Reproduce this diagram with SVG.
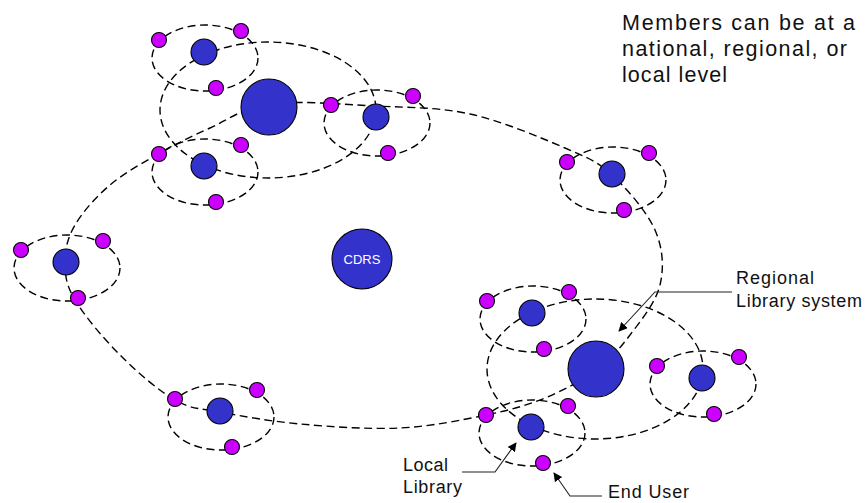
<svg xmlns="http://www.w3.org/2000/svg" width="866" height="503" viewBox="0 0 866 503">
<style>
.ring{fill:none;stroke:#000;stroke-width:1.4;stroke-dasharray:8 4.5}
.blue{fill:#3333CC;stroke:#000;stroke-width:1.1}
.mag{fill:#CC00FF;stroke:#000;stroke-width:1.1}
.txt{font-family:"Liberation Sans",Arial,sans-serif;fill:#111}
.lead{fill:none;stroke:#222;stroke-width:1.1}
</style>
<defs>
<marker id="ah" viewBox="0 0 10 10" refX="9" refY="5" markerWidth="9" markerHeight="9" markerUnits="userSpaceOnUse" orient="auto">
<path d="M0,0 L10,5 L0,10 Z" fill="#000"/>
</marker>
</defs>
<rect width="866" height="503" fill="#fff"/>
<g id="connectors">
<path class="ring" d="M270,104 C297.5,100.3 341.7,104.3 375,106 C408.3,107.7 438.3,107 470,114 C501.7,121 541.3,137.8 565,148 C588.7,158.2 597,161.3 612,175 C627,188.7 647,211.7 655,230 C663,248.3 664.2,267.5 660,285 C655.8,302.5 640.7,320.8 630,335 C619.3,349.2 610.2,359.5 596,370 C581.8,380.5 563.3,390.5 545,398 C526.7,405.5 510.2,410 486,415 C461.8,420 431,426.5 400,428 C369,429.5 330,426.7 300,424 C270,421.3 240.8,416 220,412 C199.2,408 191.7,409.5 175,400 C158.3,390.5 136.7,371.7 120,355 C103.3,338.3 84.2,315.5 75,300 C65.8,284.5 65,274.5 65,262 C65,249.5 67.5,237.8 75,225 C82.5,212.2 95.8,197 110,185 C124.2,173 143.3,162.5 160,153 C176.7,143.5 191.7,136.2 210,128 C228.3,119.8 242.5,107.7 270,104 Z"/>
<ellipse class="ring" cx="268" cy="110" rx="108" ry="68"/>
<ellipse class="ring" cx="595" cy="369" rx="108" ry="70"/>
<ellipse class="ring" cx="205" cy="58" rx="53" ry="33"/>
<ellipse class="ring" cx="205" cy="172" rx="53" ry="33"/>
<ellipse class="ring" cx="377" cy="123" rx="53" ry="33"/>
<ellipse class="ring" cx="613" cy="180" rx="53" ry="33"/>
<ellipse class="ring" cx="67" cy="268" rx="53" ry="33"/>
<ellipse class="ring" cx="221" cy="417" rx="53" ry="33"/>
<ellipse class="ring" cx="533" cy="319" rx="53" ry="33"/>
<ellipse class="ring" cx="703" cy="384" rx="53" ry="33"/>
<ellipse class="ring" cx="532" cy="433" rx="53" ry="33"/>
<path class="lead" d="M732,292 H655 L619,331" marker-end="url(#ah)"/>
<path class="lead" d="M462,472 H495 L516,443" marker-end="url(#ah)"/>
<path class="lead" d="M602,496 H570 L554,473" marker-end="url(#ah)"/>
</g>
<g id="cdrs"><circle class="blue" cx="362" cy="259" r="30"/><text x="362" y="264" text-anchor="middle" font-family="Liberation Sans,Arial,sans-serif" font-size="13" fill="#fff">CDRS</text></g>
<g id="regional-tl"><circle class="blue" cx="269" cy="107" r="28"/></g>
<g id="regional-br"><circle class="blue" cx="596" cy="369" r="28"/></g>
<g id="local1"><circle class="blue" cx="204" cy="52" r="13"/></g>
<g id="local2"><circle class="blue" cx="204" cy="166" r="13"/></g>
<g id="local3"><circle class="blue" cx="376" cy="117" r="13"/></g>
<g id="local4"><circle class="blue" cx="612" cy="174" r="13"/></g>
<g id="local5"><circle class="blue" cx="66" cy="262" r="13"/></g>
<g id="local6"><circle class="blue" cx="220" cy="411" r="13"/></g>
<g id="local7"><circle class="blue" cx="532" cy="313" r="13"/></g>
<g id="local8"><circle class="blue" cx="702" cy="378" r="13"/></g>
<g id="local9"><circle class="blue" cx="531" cy="427" r="13"/></g>
<g id="users1"><circle class="mag" cx="159" cy="40" r="7.5"/><circle class="mag" cx="241" cy="31" r="7.5"/><circle class="mag" cx="216" cy="88" r="7.5"/></g>
<g id="users2"><circle class="mag" cx="159" cy="154" r="7.5"/><circle class="mag" cx="241" cy="145" r="7.5"/><circle class="mag" cx="216" cy="202" r="7.5"/></g>
<g id="users3"><circle class="mag" cx="331" cy="105" r="7.5"/><circle class="mag" cx="413" cy="96" r="7.5"/><circle class="mag" cx="388" cy="153" r="7.5"/></g>
<g id="users4"><circle class="mag" cx="567" cy="162" r="7.5"/><circle class="mag" cx="649" cy="153" r="7.5"/><circle class="mag" cx="624" cy="210" r="7.5"/></g>
<g id="users5"><circle class="mag" cx="21" cy="250" r="7.5"/><circle class="mag" cx="103" cy="241" r="7.5"/><circle class="mag" cx="78" cy="298" r="7.5"/></g>
<g id="users6"><circle class="mag" cx="175" cy="399" r="7.5"/><circle class="mag" cx="257" cy="390" r="7.5"/><circle class="mag" cx="232" cy="447" r="7.5"/></g>
<g id="users7"><circle class="mag" cx="487" cy="301" r="7.5"/><circle class="mag" cx="569" cy="292" r="7.5"/><circle class="mag" cx="544" cy="349" r="7.5"/></g>
<g id="users8"><circle class="mag" cx="657" cy="366" r="7.5"/><circle class="mag" cx="739" cy="357" r="7.5"/><circle class="mag" cx="714" cy="414" r="7.5"/></g>
<g id="users9"><circle class="mag" cx="486" cy="415" r="7.5"/><circle class="mag" cx="568" cy="406" r="7.5"/><circle class="mag" cx="543" cy="463" r="7.5"/></g>
<g id="note" class="txt" font-size="21.5">
<text x="622" y="30" textLength="233" lengthAdjust="spacing">Members can be at a</text>
<text x="622" y="56" textLength="225" lengthAdjust="spacing">national, regional, or</text>
<text x="622" y="82" textLength="105" lengthAdjust="spacing">local level</text>
</g>
<g id="label-regional" class="txt" font-size="18">
<text x="736" y="284" textLength="78" lengthAdjust="spacing">Regional</text>
<text x="736" y="307" textLength="126" lengthAdjust="spacing">Library system</text>
</g>
<g id="label-local" class="txt" font-size="18">
<text x="403" y="471" textLength="45" lengthAdjust="spacing">Local</text>
<text x="403" y="493" textLength="59" lengthAdjust="spacing">Library</text>
</g>
<g id="label-enduser" class="txt" font-size="18">
<text x="608" y="498" textLength="81" lengthAdjust="spacing">End User</text>
</g>
</svg>
